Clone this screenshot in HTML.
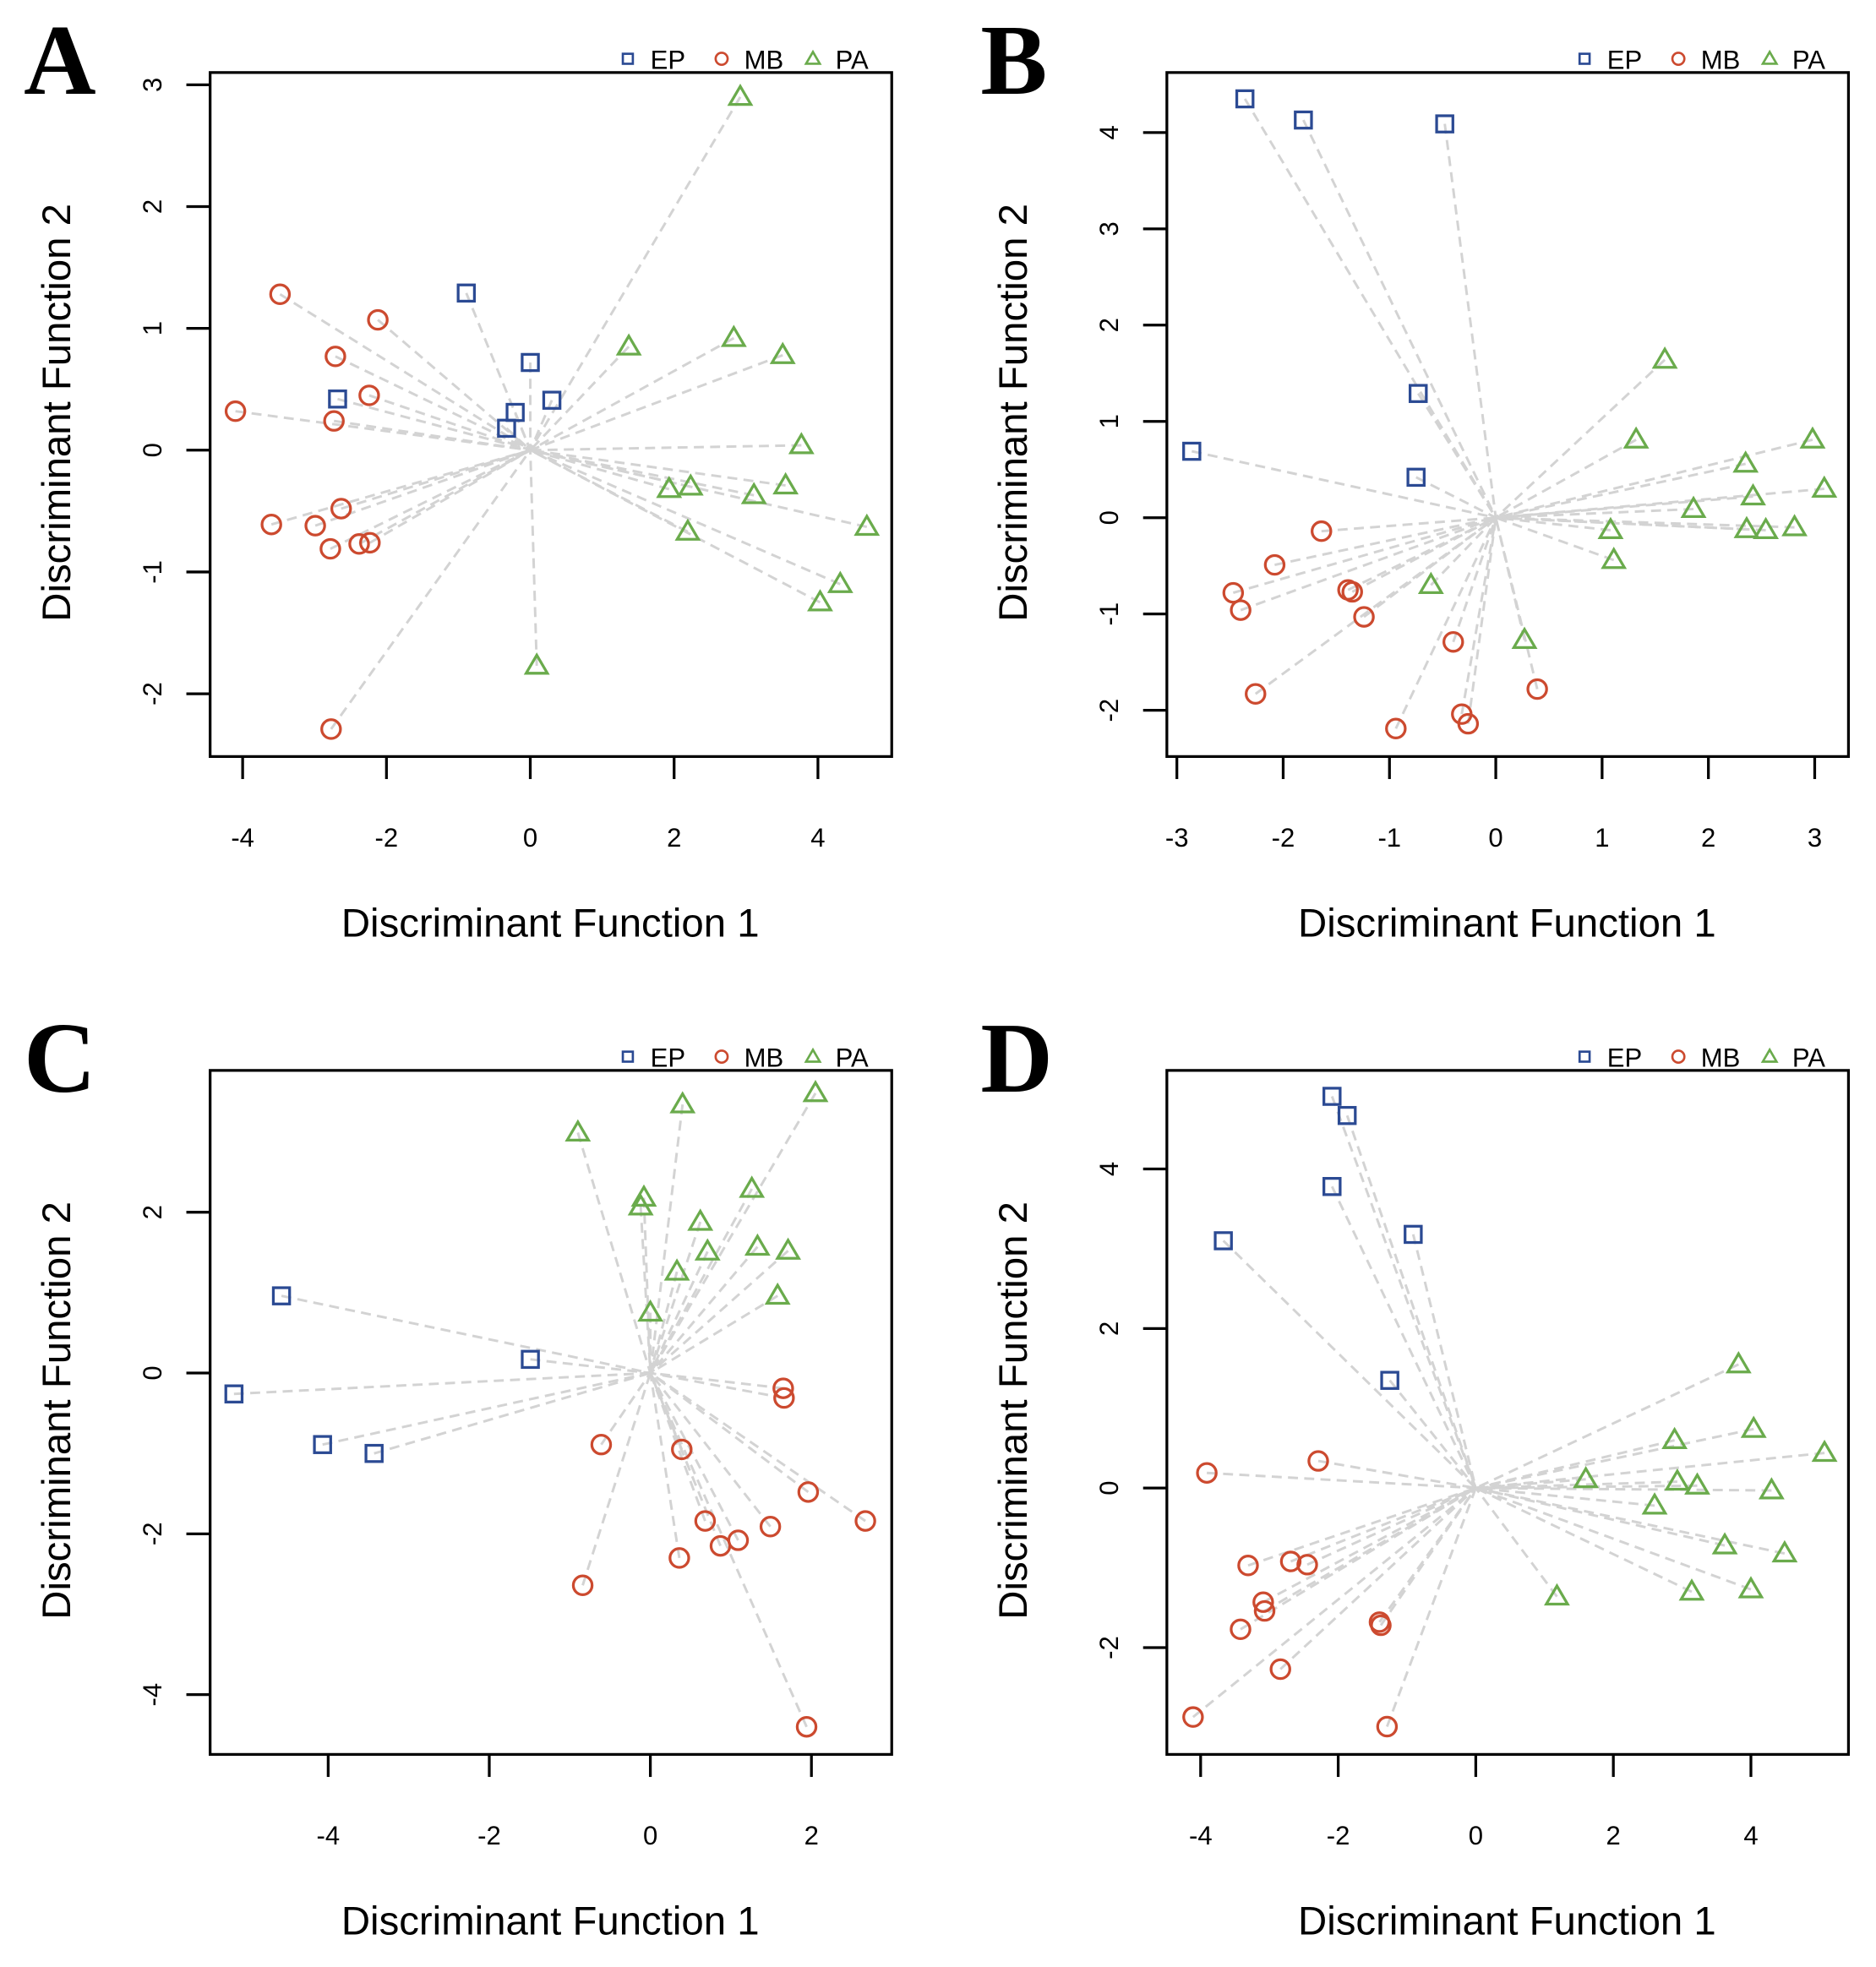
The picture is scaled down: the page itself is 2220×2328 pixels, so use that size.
<!DOCTYPE html>
<html><head><meta charset="utf-8"><style>
html,body{margin:0;padding:0;background:#fff}
svg{display:block}
</style></head><body>
<svg id="fig" xmlns="http://www.w3.org/2000/svg" width="2220" height="2328" viewBox="0 0 1500 1573" font-family="Liberation Sans, sans-serif"></svg>
<script>
// Panel A
const aEPx=[-0.89,0,-2.68,0.3,-0.21,-0.33];
const aEPy=[1.29,0.72,0.42,0.41,0.31,0.18];
const aMBx=[-3.48,-2.12,-2.71,-2.24,-4.1,-2.73,-2.63,-3.6,-2.99,-2.78,-2.38,-2.23,-2.77];
const aMBy=[1.28,1.07,0.77,0.45,0.32,0.24,-0.48,-0.61,-0.62,-0.81,-0.77,-0.76,-2.29];
const aPAx=[2.92,1.37,2.83,3.51,3.77,1.93,2.23,3.11,3.55,2.19,4.68,4.31,4.03,0.09];
const aPAy=[2.9,0.85,0.92,0.78,0.04,-0.32,-0.30,-0.37,-0.29,-0.67,-0.63,-1.1,-1.25,-1.77];
const aXTicks=[-4,-2,0,2,4];
const aYTicks=[-2,-1,0,1,2,3];
// Panel B
const bEPx=[-2.36,-1.81,-0.48,-0.73,-0.75,-2.86];
const bEPy=[4.35,4.13,4.09,1.29,0.42,0.69];
const bMBx=[-1.64,-2.08,-2.47,-2.4,-1.39,-1.35,-1.24,-0.4,0.39,-2.26,-0.94,-0.32,-0.26];
const bMBy=[-0.14,-0.49,-0.78,-0.96,-0.75,-0.77,-1.03,-1.29,-1.78,-1.83,-2.19,-2.04,-2.14];
const bPAx=[1.59,1.32,2.98,2.35,2.42,3.09,1.86,1.08,2.36,2.54,2.81,1.11,-0.61,0.27];
const bPAy=[1.64,0.81,0.81,0.56,0.22,0.3,0.09,-0.13,-0.12,-0.13,-0.1,-0.44,-0.70,-1.27];
const bXTicks=[-3,-2,-1,0,1,2,3];
const bYTicks=[-2,-1,0,1,2,3,4];
// Panel C
const cEPx=[-4.58,-5.17,-4.07,-3.43,-1.49];
const cEPy=[0.96,-0.26,-0.89,-1.0,0.17];
const cMBx=[1.65,1.66,-0.61,0.39,1.96,2.67,0.68,1.49,1.09,0.87,0.36,-0.84,1.94];
const cMBy=[-0.19,-0.31,-0.89,-0.95,-1.48,-1.84,-1.84,-1.91,-2.08,-2.15,-2.3,-2.64,-4.4];
const cPAx=[-0.9,0.4,2.05,-0.08,-0.12,1.26,0.62,1.33,1.71,0.71,0.33,1.58,0];
const cPAy=[2.99,3.34,3.48,2.18,2.07,2.29,1.88,1.57,1.52,1.51,1.26,0.96,0.75];
const cXTicks=[-4,-2,0,2];
const cYTicks=[-4,-2,0,2];
// Panel D
const dEPx=[-2.09,-1.87,-2.09,-0.91,-3.67,-1.25];
const dEPy=[4.91,4.67,3.78,3.18,3.10,1.35];
const dMBx=[-3.91,-2.29,-3.31,-2.69,-2.45,-3.09,-3.07,-3.42,-1.4,-1.38,-2.84,-4.11,-1.29];
const dMBy=[0.19,0.34,-0.97,-0.92,-0.96,-1.43,-1.54,-1.77,-1.68,-1.72,-2.27,-2.87,-2.99];
const dPAx=[3.82,4.04,5.07,2.89,1.6,2.93,3.22,4.3,2.6,3.62,4.49,3.14,4.0,1.18];
const dPAy=[1.55,0.74,0.44,0.6,0.11,0.08,0.03,-0.03,-0.22,-0.72,-0.82,-1.3,-1.27,-1.36];
const dXTicks=[-4,-2,0,2,4];
const dYTicks=[-2,0,2,4];

const NS='http://www.w3.org/2000/svg';
const svg=document.getElementById('fig');
const COL={EP:'#2b4a93',MB:'#cc4a2f',PA:'#6aab4c'};
function mk(tag,attrs,parent){const e=document.createElementNS(NS,tag);for(const k in attrs)e.setAttribute(k,attrs[k]);(parent||svg).appendChild(e);return e;}

const panels=[
 {L:'A',ox:168,oy:58,x0:424,xs:57.5,y0:360,ys:97.4,xt:aXTicks,yt:aYTicks,EP:[aEPx,aEPy],MB:[aMBx,aMBy],PA:[aPAx,aPAy]},
 {L:'B',ox:933,oy:58,x0:1196,xs:85,y0:414,ys:77,xt:bXTicks,yt:bYTicks,EP:[bEPx,bEPy],MB:[bMBx,bMBy],PA:[bPAx,bPAy]},
 {L:'C',ox:168,oy:856,x0:520,xs:64.4,y0:1098,ys:64.3,xt:cXTicks,yt:cYTicks,EP:[cEPx,cEPy],MB:[cMBx,cMBy],PA:[cPAx,cPAy]},
 {L:'D',ox:933,oy:856,x0:1180,xs:55,y0:1190,ys:63.8,xt:dXTicks,yt:dYTicks,EP:[dEPx,dEPy],MB:[dMBx,dMBy],PA:[dPAx,dPAy]}
];
function marker(g,grp,x,y){
 let e;
 if(grp==='EP') e=mk('rect',{x:x-6.5,y:y-6.5,width:13,height:13,fill:'none',stroke:COL.EP,'stroke-width':2.2},g);
 else if(grp==='MB') e=mk('circle',{cx:x,cy:y,r:7.5,fill:'none',stroke:COL.MB,'stroke-width':2.2},g);
 else e=mk('polygon',{points:(x)+','+(y-8.5)+' '+(x-8.5)+','+(y+6)+' '+(x+8.5)+','+(y+6),fill:'none',stroke:COL.PA,'stroke-width':2.2},g);
 return e;
}
panels.forEach(p=>{
 const g=mk('g',{});
 
 
 const X=v=>p.x0+v*p.xs, Y=v=>p.y0-v*p.ys;
 const W=545,H=547;
 const lt=mk('text',{x:p.ox-149,y:p.oy+17,'font-family':'Liberation Serif, serif','font-weight':'bold','font-size':80},g);
 lt.textContent=p.L;
 
 
 ['EP','MB','PA'].forEach(k=>{const [xs,ys]=p[k];xs.forEach((v,i)=>{
  const l=mk('line',{x1:X(v),y1:Y(ys[i]),x2:X(0),y2:Y(0),stroke:'#d3d3d3','stroke-width':2,'stroke-dasharray':'8,5'},g);
  
  
 });});
 ['PA','MB','EP'].forEach(k=>{const [xs,ys]=p[k];xs.forEach((v,i)=>{
  const m=marker(g,k,X(v),Y(ys[i]));
  
  
 });});
 const box=mk('rect',{x:p.ox,y:p.oy,width:W,height:H,fill:'none',stroke:'#000','stroke-width':2.2},g);
 
 
 p.xt.forEach(t=>{
  mk('line',{x1:X(t),x2:X(t),y1:p.oy+H,y2:p.oy+H+18,stroke:'#000','stroke-width':2.2},g);
  const tx=mk('text',{x:X(t),y:p.oy+H+72,'text-anchor':'middle','font-size':21},g);
  tx.textContent=t;
  
  
 });
 p.yt.forEach(t=>{
  mk('line',{x1:p.ox,x2:p.ox-19,y1:Y(t),y2:Y(t),stroke:'#000','stroke-width':2.2},g);
  const tx=mk('text',{x:0,y:0,'text-anchor':'middle','font-size':21,transform:'translate('+(p.ox-39)+','+Y(t)+') rotate(-90)'},g);
  tx.textContent=t;
  
  
 });
 const xtitle=mk('text',{x:p.ox+272,y:p.oy+H+144,'text-anchor':'middle','font-size':32},g);
 xtitle.textContent='Discriminant Function 1';
 
 
 const ytitle=mk('text',{x:0,y:0,'text-anchor':'middle','font-size':32,transform:'translate('+(p.ox-112)+','+(p.oy+272)+') rotate(-90)'},g);
 ytitle.textContent='Discriminant Function 2';
 
 
 const lx=p.ox+334, ly=p.oy-11;
 const leg=[['EP',lx],['MB',lx+75],['PA',lx+148]];
 leg.forEach(([k,x])=>{
  const s=mk('g',{},g);
  
  
  if(k==='EP') mk('rect',{x:x-4,y:ly-4,width:8,height:8,fill:'none',stroke:COL.EP,'stroke-width':1.8},s);
  else if(k==='MB') mk('circle',{cx:x,cy:ly,r:4.8,fill:'none',stroke:COL.MB,'stroke-width':1.8},s);
  else mk('polygon',{points:x+','+(ly-5.5)+' '+(x-5.5)+','+(ly+4)+' '+(x+5.5)+','+(ly+4),fill:'none',stroke:COL.PA,'stroke-width':1.8},s);
  const t=mk('text',{x:x+18,y:ly+8,'font-size':21},s);
  t.textContent=k;
 });
});
</script>
</body></html>
